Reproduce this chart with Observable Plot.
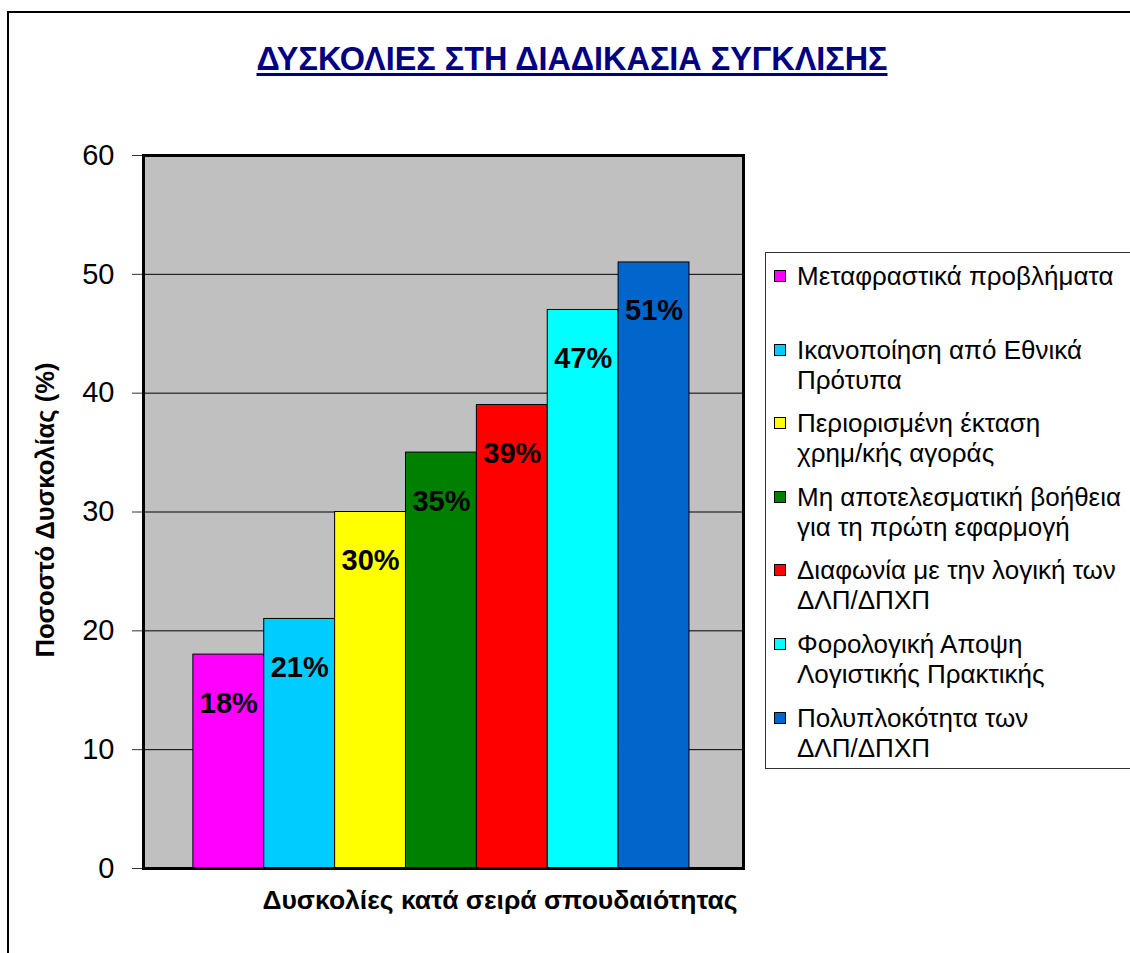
<!DOCTYPE html>
<html><head><meta charset="utf-8">
<script src="https://cdn.jsdelivr.net/npm/d3@7"></script>
<script src="https://cdn.jsdelivr.net/npm/@observablehq/plot@0.6"></script>
<style>
body{margin:0;background:#fff;font-family:"Liberation Sans",Arial,sans-serif;}
#wrap{position:relative;width:1130px;height:953px;overflow:hidden;background:#fff;}
#frame{position:absolute;left:7px;top:11px;width:1300px;height:1100px;border:2px solid #000;}
#chart{position:absolute;left:0;top:0;}
#title{position:absolute;left:0;width:1144px;top:41px;text-align:center;font-weight:bold;font-size:32.4px;line-height:36px;color:#000080;text-decoration:underline;text-decoration-thickness:3px;text-underline-offset:3px;white-space:nowrap;}
#ytitle{position:absolute;left:45px;top:510px;transform:translate(-50%,-50%) rotate(-90deg);font-weight:bold;font-size:25.6px;white-space:nowrap;line-height:28px;}
#xtitle{position:absolute;left:500px;top:900px;transform:translate(-50%,-50%);font-weight:bold;font-size:26.5px;white-space:nowrap;line-height:30px;}
#legend{position:absolute;left:765px;top:252px;width:420px;height:515px;border:1px solid #333;background:#fff;}
.item{position:absolute;left:31px;font-size:26px;line-height:30px;white-space:pre;color:#000;}
.sw{position:absolute;left:-23px;top:9px;width:10px;height:10px;border:1px solid #000;}
</style>
</head><body>
<div id="wrap">
  <div id="frame"></div>
  <div id="chart"></div>
  <div id="title">ΔΥΣΚΟΛΙΕΣ ΣΤΗ ΔΙΑΔΙΚΑΣΙΑ ΣΥΓΚΛΙΣΗΣ</div>
  <div id="ytitle">Ποσοστό Δυσκολίας (%)</div>
  <div id="xtitle">Δυσκολίες κατά σειρά σπουδαιότητας</div>
  <div id="legend"></div>
</div>
<script>
const categories = [
  "Μεταφραστικά προβλήματα",
  "Ικανοποίηση από Εθνικά\nΠρότυπα",
  "Περιορισμένη έκταση\nχρημ/κής αγοράς",
  "Μη αποτελεσματική βοήθεια\nγια τη πρώτη εφαρμογή",
  "Διαφωνία με την λογική των\nΔΛΠ/ΔΠΧΠ",
  "Φορολογική Αποψη\nΛογιστικής Πρακτικής",
  "Πολυπλοκότητα των\nΔΛΠ/ΔΠΧΠ"
];
const values = [18, 21, 30, 35, 39, 47, 51];
const colors = ["#FF00FF", "#00CCFF", "#FFFF00", "#008000", "#FF0000", "#00FFFF", "#0066CC"];
const yTicks = [0, 10, 20, 30, 40, 50, 60];

const data = categories.map((c, i) => ({name: c, value: values[i]}));

const chart = Plot.plot({
  width: 1130, height: 953,
  marginLeft: 143, marginRight: 387, marginTop: 155, marginBottom: 85,
  style: {fontFamily: '"Liberation Sans", Arial, sans-serif', background: "transparent", overflow: "visible", color: "#000"},
  x: {type: "band", domain: categories, paddingInner: 0, paddingOuter: 0.733, align: 0.48, round: false, axis: null},
  y: {domain: [0, 60], axis: null},
  color: {type: "ordinal", domain: categories, range: colors},
  marks: [
    Plot.frame({fill: "#c0c0c0"}),
    Plot.gridY(yTicks.filter(t => t > 0 && t < 60), {stroke: "#000", strokeOpacity: 1, strokeWidth: 1}),
    Plot.barY(data, {x: "name", y: "value", fill: "name", stroke: "#000", strokeWidth: 1}),
    Plot.text(data, {x: "name", y: d => d.value - 4.1, text: d => d.value + "%", fontSize: 29, fontWeight: "bold", fill: "#000"}),
    Plot.axisY({ticks: yTicks, tickSize: 11, tickPadding: 18, fontSize: 29, tickFormat: d => String(d), label: null, stroke: "#333"}),
    Plot.frame({stroke: "#000", strokeWidth: 3})
  ]
});
document.getElementById("chart").appendChild(chart);

const legend = document.getElementById("legend");
categories.forEach((c, i) => {
  const it = document.createElement("div");
  it.className = "item";
  it.style.top = (8 + i * 73.6) + "px";
  it.textContent = c;
  const sw = document.createElement("div");
  sw.className = "sw";
  sw.style.background = colors[i];
  it.appendChild(sw);
  legend.appendChild(it);
});
</script>
</body></html>
